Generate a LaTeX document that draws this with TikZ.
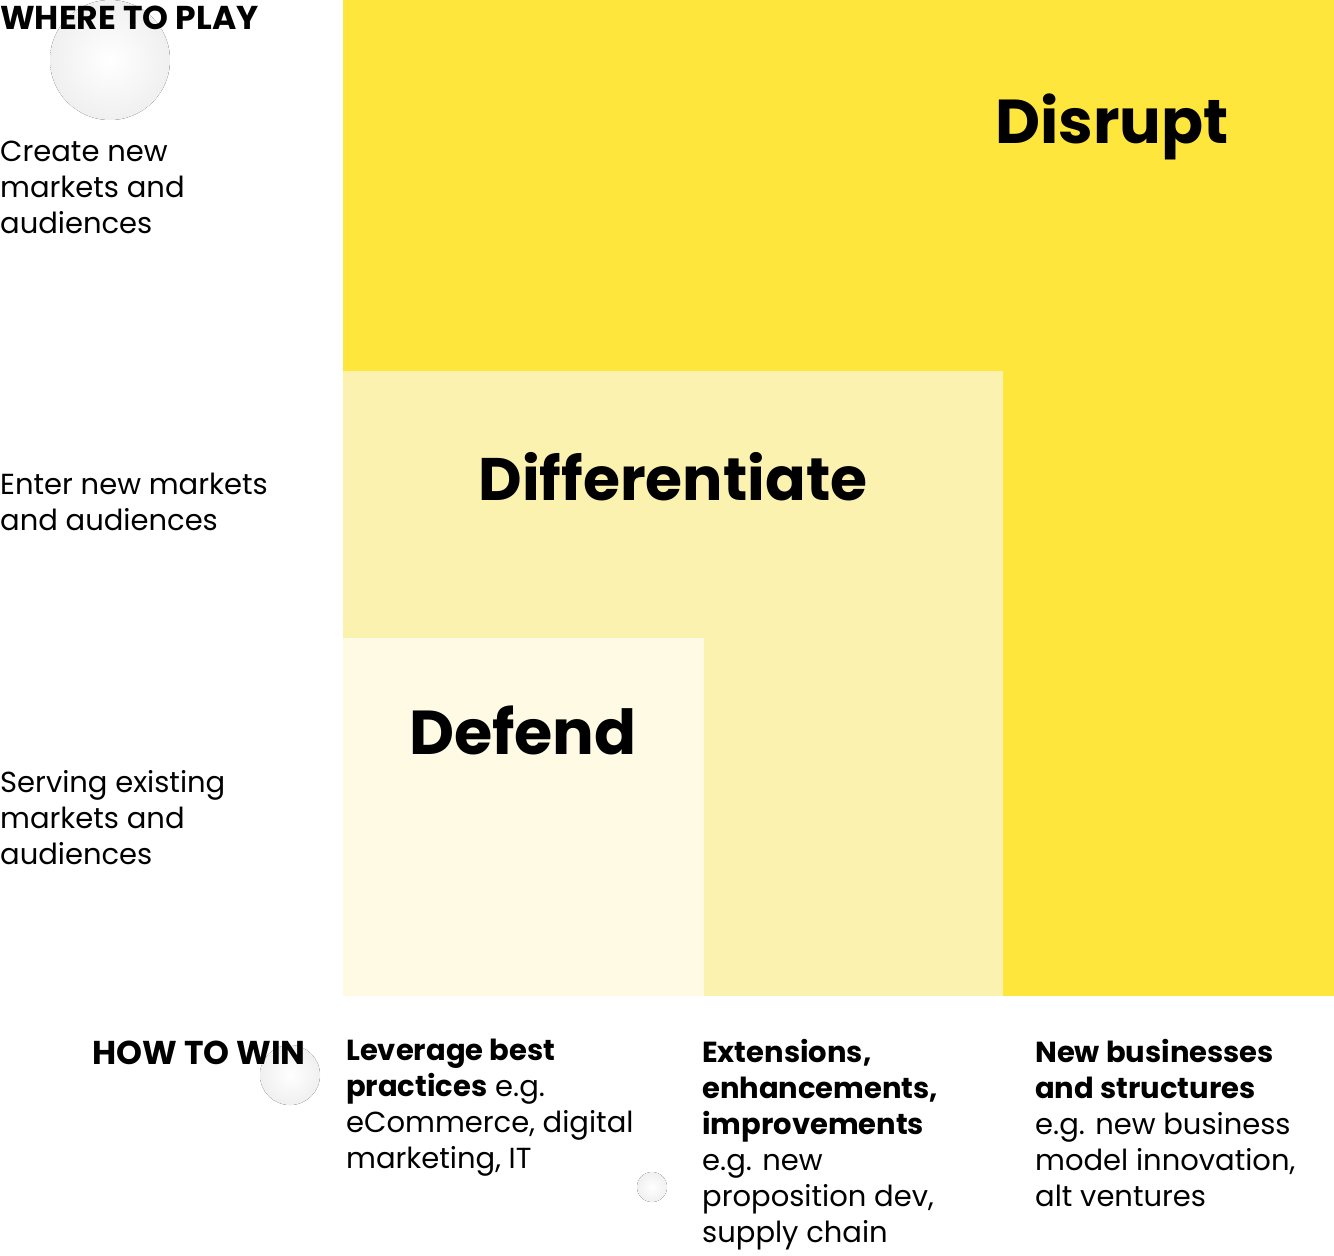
\documentclass[tikz,border=0pt]{standalone}
\usepackage{fontspec}
\setmainfont{Poppins}
\begin{document}
\begin{tikzpicture}[x=1pt,y=-1pt,
  lbl/.style={anchor=north west,align=left,inner sep=0pt,font=\fontsize{29}{36}\selectfont},
  hd/.style={lbl,font=\bfseries\fontsize{33}{36}\selectfont},
  big/.style={font=\bfseries\fontsize{62}{70}\selectfont,inner sep=0pt},
  circ/.style={inner color=white,outer color=black!6,draw=none}]
\useasboundingbox (0,0) rectangle (1334,1256);
\fill[white] (0,0) rectangle (1334,1256);
\fill[circ] (110,60) circle (60);
\fill[circ] (290,1075) circle (30);
\fill[circ] (652,1187) circle (15);
\fill[fill={rgb,255:red,255;green,230;blue,61}] (343,0) rectangle (1334,996);
\fill[fill={rgb,255:red,251;green,242;blue,176}] (343,371) rectangle (1003,996);
\fill[fill={rgb,255:red,254;green,250;blue,228}] (343,638) rectangle (704,996);
\node[big] (dis) at (1112,127) {Disrupt};
\node[big,font=\bfseries\fontsize{60}{70}\selectfont] (dif) at (673,477) {Differentiate};
\node[big] (def) at (523,730) {Defend};
\node[hd] (wtp) at (0,6) {WHERE TO PLAY};
\node[lbl] (l1) at (0,141) {Create new\\markets and\\audiences};
\node[lbl] (l2) at (0,473) {Enter new markets\\and audiences};
\node[lbl] (l3) at (0,770) {Serving existing\\markets and\\audiences};
\node[hd,anchor=north east] (htw) at (306,1041) {HOW TO WIN};
\node[lbl] (c1) at (346,1039) {\textbf{Leverage best}\\\textbf{practices} e.g.\\eCommerce, digital\\marketing, IT};
\node[lbl] (c2) at (702,1039) {\textbf{Extensions,}\\\textbf{enhancements,}\\\textbf{improvements}\\e.g. new\\proposition dev,\\supply chain};
\node[lbl] (c3) at (1035,1039) {\textbf{New businesses}\\\textbf{and structures}\\e.g. new business\\model innovation,\\alt ventures};
\end{tikzpicture}
\end{document}
